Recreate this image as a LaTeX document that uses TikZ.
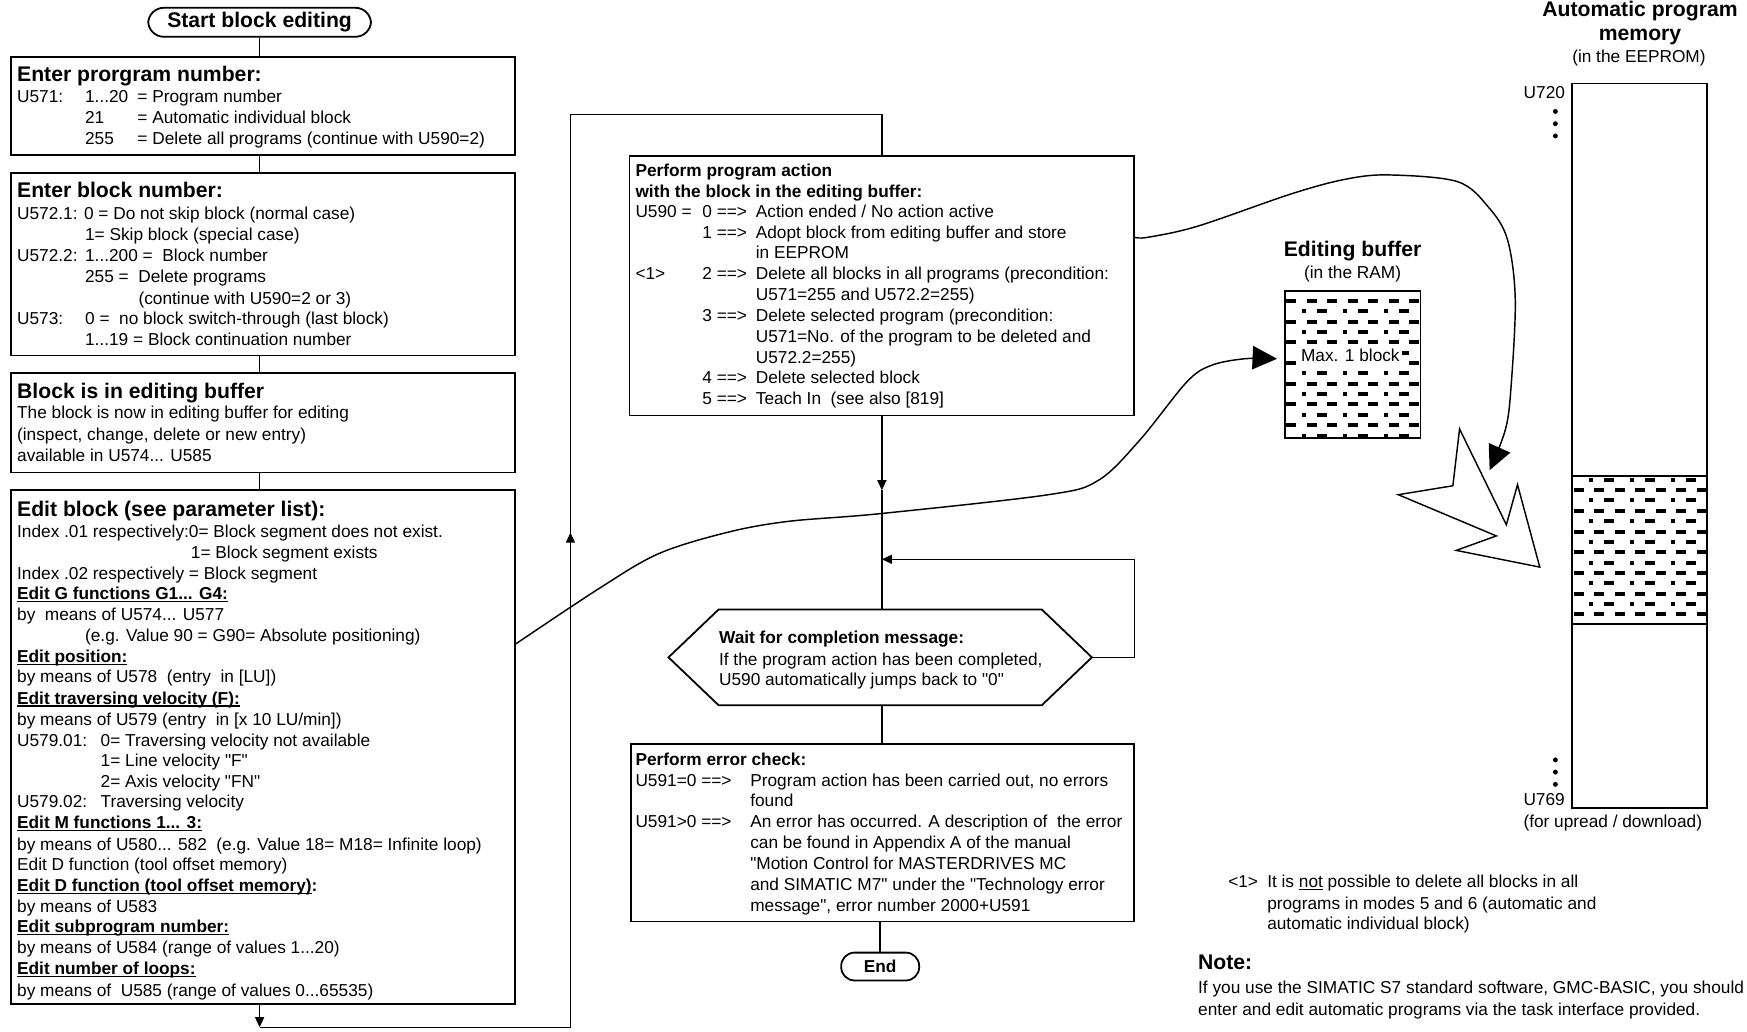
\documentclass[tikz,border=0pt]{standalone}
\usepackage{fontspec}
\setmainfont{Liberation Sans}[Ligatures=TeXOff]
\usetikzlibrary{arrows.meta,fit}
\newcommand\nsz{\fontsize{7.75pt}{9.3pt}\selectfont}
\newcommand\bsz{\fontsize{9.5pt}{11pt}\selectfont\bfseries}
\newcounter{tn}
\newcommand\tline[3]{\stepcounter{tn}\node[txt] (t\arabic{tn}) at (#1,#2+5) {#3};}
\newcommand\tbig[3]{\stepcounter{tn}\node[txt,font=\bsz] (t\arabic{tn}) at (#1,#2+6.5) {#3};}
\newcommand\myul[1]{\setbox0\hbox{#1}\rlap{\rule[-1.1pt]{\wd0}{0.5pt}}\box0\relax}
\newcommand\ubf[1]{\textbf{\myul{#1}}}
% #1 x1, #2 y1, #3 x2, #4 y2, #5 top of first A row below y1
\newcommand\hatchfill[5]{%
\begin{scope}
\clip (#1,#2) rectangle (#3,#4);
\foreach \r in {-1,...,7}{
 \foreach \c in {0,...,7}{
  \fill (#1+1.6+\c*18.4, #2+#5+\r*18.6) rectangle ++(9,3.6);
 }
 \foreach \c in {0,...,3}{
  \fill (#1+15.5+\c*36.8, #2+#5-9.3+\r*18.6) rectangle ++(3.6,3.6);
  \fill (#1+29+\c*36.8, #2+#5-9.3+\r*18.6) rectangle ++(9,3.6);
 }
}
\end{scope}}
\begin{document}
\begin{tikzpicture}[x=0.5pt,y=-0.5pt, font=\nsz,
 txt/.style={anchor=base west, inner sep=0pt},
 boxst/.style={draw, line width=0.8pt, inner sep=0pt},
 conn/.style={line width=0.65pt},
 arr/.style={-{Triangle[length=4.5pt,width=4pt]}},
 bigarr/.style={-{Triangle[length=11pt,width=10.5pt]}}]
\useasboundingbox[fill=white] (0,0) rectangle (1568,926);

% ---------- left column boxes
\node[boxst, rounded corners=7pt, minimum width=100pt, minimum height=13pt, font=\bsz] (st) at (233,20) {Start block editing};
\node[boxst, fit={(10,51) (462,139)}] (b1) {};
\node[boxst, fit={(10,155) (462,319)}] (b2) {};
\node[boxst, fit={(10,335) (462,424)}] (b3) {};
\node[boxst, fit={(10,440) (462,901)}] (b4) {};

\draw[conn] (st.south) -- (st.south |- b1.north);
\draw[conn] (st.south |- b1.south) -- (st.south |- b2.north);
\draw[conn] (st.south |- b2.south) -- (st.south |- b3.north);
\draw[conn] (st.south |- b3.south) -- (st.south |- b4.north);

% box 1
\tbig{15}{67}{Enter prorgram number:}
\tline{15}{87}{U571:}
\tline{76}{87}{1...20}
\tline{123}{87}{= Program number}
\tline{76}{106}{21}
\tline{123}{106}{= Automatic individual block}
\tline{76}{125}{255}
\tline{123}{125}{= Delete all programs (continue with U590=2)}
% box 2
\tbig{15}{171}{Enter block number:}
\tline{15}{192}{U572.1: 0 = Do not skip block (normal case)}
\tline{76}{211}{1= Skip block (special case)}
\tline{15}{230}{U572.2:}
\tline{76}{230}{1...200 = ~Block number}
\tline{76}{249}{255 = ~Delete programs}
\tline{124}{268}{(continue with U590=2 or 3)}
\tline{15}{286}{U573:}
\tline{76}{286}{0 = ~no block switch-through (last block)}
\tline{76}{305}{1...19 = Block continuation number}
% box 3
\tbig{15}{351}{Block is in editing buffer}
\tline{15}{371}{The block is now in editing buffer for editing}
\tline{15}{390}{(inspect, change, delete or new entry)}
\tline{15}{409}{available in U574... U585}
% box 4
\tbig{15}{457}{Edit block (see parameter list):}
\tline{15}{477}{Index .01 respectively:0= Block segment does not exist.}
\tline{171}{496}{1= Block segment exists}
\tline{15}{515}{Index .02 respectively = Block segment}
\tline{15}{533}{\ubf{Edit G functions G1... G4:}}
\tline{15}{552}{by~ means of U574... U577}
\tline{76}{571}{(e.g. Value 90 = G90= Absolute positioning)}
\tline{15}{590}{\ubf{Edit position:}}
\tline{15}{608}{by means of U578 ~(entry ~in [LU])}
\tline{15}{627}{\ubf{Edit traversing velocity (F):}}
\tline{15}{646}{by means of U579 (entry ~in [x 10 LU/min])}
\tline{15}{665}{U579.01:}
\tline{90}{665}{0= Traversing velocity not available}
\tline{90}{683}{1= Line velocity "F"}
\tline{90}{702}{2= Axis velocity "FN"}
\tline{15}{720}{U579.02:}
\tline{90}{720}{Traversing velocity}
\tline{15}{739}{\ubf{Edit M functions 1... 3:}}
\tline{15}{758}{by means of U580... 582 ~(e.g. Value 18= M18= Infinite loop)}
\tline{15}{776}{Edit D function (tool offset memory)}
\tline{15}{795}{\textbf{\myul{Edit D function (tool offset memory)}:}}
\tline{15}{814}{by means of U583}
\tline{15}{832}{\ubf{Edit subprogram number:}}
\tline{15}{851}{by means of U584 (range of values 1...20)}
\tline{15}{870}{\ubf{Edit number of loops:}}
\tline{15}{889}{by means of ~U585 (range of values 0...65535)}

% ---------- loop back to perform box
\node[boxst, fit={(565,140) (1018,373)}] (b5) {};
\coordinate (lp1) at (512,922);
\coordinate (lp2) at (512,103);
\coordinate (upa) at (512,478);
\draw[conn,arr] (st.south |- b4.south) -- (st.south |- lp1);
\draw[conn] (st.south |- lp1) -- (lp1) -- (lp2) -- (lp2 -| b5.north) -- (b5.north);
\draw[conn,arr] (lp1) -- (upa);

% perform box text
\tline{570}{153}{\bfseries Perform program action}
\tline{570}{172}{\bfseries with the block in the editing buffer:}
\tline{570}{190}{U590 =}
\tline{630}{190}{0 ==>}
\tline{678}{190}{Action ended / No action active}
\tline{630}{209}{1 ==>}
\tline{678}{209}{Adopt block from editing buffer and store}
\tline{678}{227}{in EEPROM}
\tline{570}{246}{<1>}
\tline{630}{246}{2 ==>}
\tline{678}{246}{Delete all blocks in all programs (precondition:}
\tline{678}{265}{U571=255 and U572.2=255)}
\tline{630}{284}{3 ==>}
\tline{678}{284}{Delete selected program (precondition:}
\tline{678}{302}{U571=No. of the program to be deleted and}
\tline{678}{321}{U572.2=255)}
\tline{630}{339}{4 ==>}
\tline{678}{339}{Delete selected block}
\tline{630}{358}{5 ==>}
\tline{678}{358}{Teach In ~(see also [819]}

% ---------- hexagon
\coordinate (hexL) at (600,590);
\coordinate (hexTL) at (645,547);
\coordinate (hexTR) at (935,547);
\coordinate (hexR) at (980,590);
\coordinate (hexBR) at (935,633);
\coordinate (hexBL) at (645,633);
\draw[boxst] (hexL) -- (hexTL) -- (hexTR) -- (hexR) -- (hexBR) -- (hexBL) -- cycle;
\coordinate (dna) at (790,440);
\draw[conn,arr] (b5.south) -- (b5.south |- dna);
\draw[conn] (b5.south |- dna) -- (b5.south |- hexTL);
\coordinate (fb) at (1018,502);
\draw[conn,arr] (hexR) -- (hexR -| fb) -- (fb) -- (fb -| b5.south);
\tline{645}{573}{\bfseries Wait for completion message:}
\tline{645}{592}{If the program action has been completed,}
\tline{645}{610}{U590 automatically jumps back to "0"}

% ---------- error box
\node[boxst, fit={(566,668) (1018,827)}] (b7) {};
\draw[conn] (b5.south |- hexBL) -- (b5.south |- b7.north);
\node[boxst, rounded corners=6pt, minimum width=35pt, minimum height=12.5pt, font=\nsz\bfseries] (en) at (790,867.5) {End};
\draw[conn] (en.north |- b7.south) -- (en.north);
\tline{570}{682}{\bfseries Perform error check:}
\tline{570}{701}{U591=0 ==>}
\tline{673}{701}{Program action has been carried out, no errors}
\tline{673}{719}{found}
\tline{570}{738}{U591>0 ==>}
\tline{673}{738}{An error has occurred. A description of ~the error}
\tline{673}{757}{can be found in Appendix A of the manual}
\tline{673}{775}{"Motion Control for MASTERDRIVES MC}
\tline{673}{794}{and SIMATIC M7" under the "Technology error}
\tline{673}{813}{message", error number 2000+U591}

% ---------- editing buffer
\hatchfill{1153}{261}{1275}{393}{7.2}
\node[boxst, fit={(1153,261) (1275,393)}] (buf) {};
\node[fill=white, inner xsep=1pt, inner ysep=2pt] (tmax) at (1212,319) {Max. 1 block};
\node[font=\bsz, anchor=base] (teb) at (1214,230.5) {Editing buffer};
\node[anchor=base] (tram) at (1214,250) {(in the RAM)};

% ---------- program memory
\hatchfill{1411}{427}{1532}{560}{11.1}
\node[boxst, fit={(1411,75) (1532,725)}] (mem) {};
\coordinate (md1) at (1411,427);
\coordinate (md2) at (1411,560);
\draw[boxst] (md1) -- (md1 -| mem.east);
\draw[boxst] (md2) -- (md2 -| mem.east);
\node[font=\bsz, anchor=base] (tap) at (1472,14.5) {Automatic program};
\node[font=\bsz, anchor=base] (tam) at (1472,36.5) {memory};
\node[anchor=base] (tee) at (1471,56) {(in the EEPROM)};
\node[anchor=base east, inner sep=0pt] (tu720) at (1405,88) {U720};
\foreach \yy in {100,111,122,682,693,704}{\fill (1396,\yy) circle (2.2);}
\tline{1367}{718}{U769}
\tline{1367}{738}{(for upread / download)}

% ---------- big hollow arrow
\draw[line width=0.65pt, fill=white] (1310,385) -- (1304,436) -- (1255,444) -- (1343,481) -- (1307,494) -- (1382,509) -- (1362,435) -- (1352,471) -- cycle;

% ---------- curved arrows
\coordinate (tipA) at (1337,422);
\draw[conn,bigarr] plot[smooth,tension=0.55] coordinates {([yshift=21.75pt]b5.east) (1030,213) (1075,203) (1159,174) (1207,161) (1246,157) (1308,163) (1336,186) (1353,215) (1360,269) (1356,350) (1351,386) (tipA)};
\draw[conn,bigarr] plot[smooth,tension=0.55] coordinates {([yshift=46.25pt]b4.east) (538,528) (591,497) (652,478) (707,468) (790,461) (941,444) (986,431) (1023,395) (1065,343) (1087,328) (1117,322) ([xshift=-3pt,yshift=2.5pt]buf.west)};

% ---------- footnote and note
\tline{1102}{792}{<1>}
\tline{1137}{792}{It is \myul{not} possible to delete all blocks in all}
\tline{1137}{811}{programs in modes 5 and 6 (automatic and}
\tline{1137}{829}{automatic individual block)}
\tbig{1075}{864}{Note:}
\tline{1075}{887}{If you use the SIMATIC S7 standard software, GMC-BASIC, you should}
\tline{1075}{906}{enter and edit automatic programs via the task interface provided.}
\end{tikzpicture}
\end{document}
